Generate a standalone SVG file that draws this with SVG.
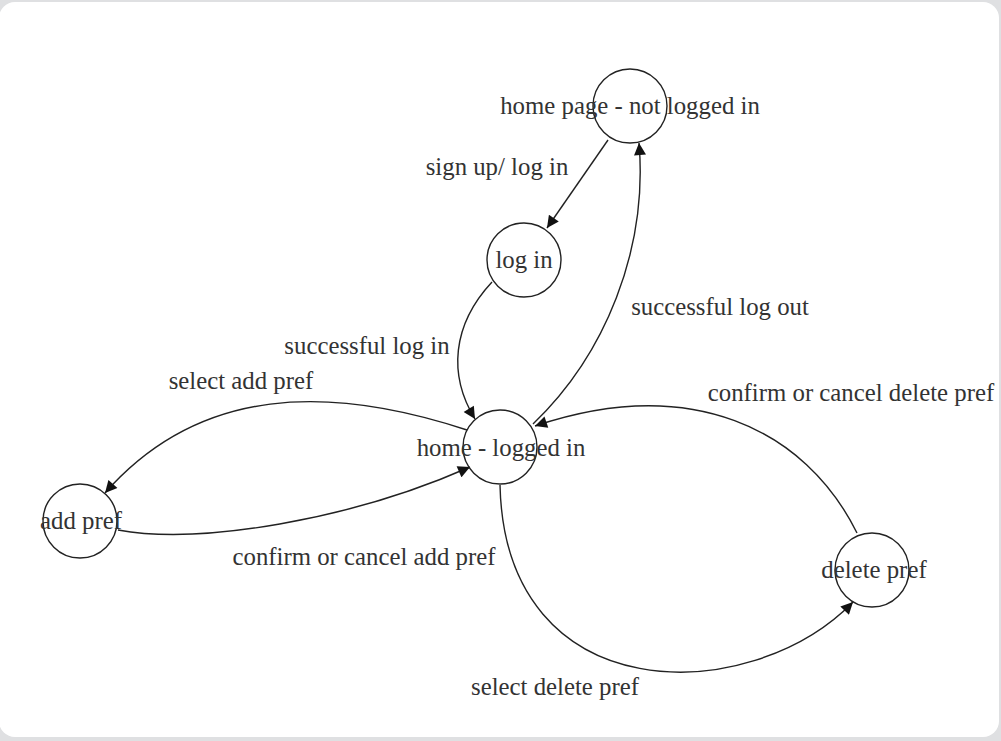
<svg xmlns="http://www.w3.org/2000/svg" width="1001" height="741" viewBox="0 0 1001 741">
<defs>
<style>
.node circle{fill:none;stroke:#222;stroke-width:1.4}
.lbl{font-family:"Liberation Serif","Times New Roman",serif;font-size:24.8px;fill:#333;text-anchor:middle}
.edge{fill:none;stroke:#222;stroke-width:1.4}
</style>
<marker id="arr" viewBox="0 0 10 10" refX="10" refY="5" markerWidth="13" markerHeight="12" markerUnits="userSpaceOnUse" orient="auto">
<path d="M0,0 L10,5 L0,10 z" fill="#111"/>
</marker>
</defs>
<rect x="0" y="0" width="1001" height="741" fill="#dfe0e2"/>
<rect x="-1" y="2" width="1000" height="735" rx="16" fill="#fff"/>
<g id="connectors">
<path class="edge" marker-end="url(#arr)" d="M608,140 L547,228"/>
<path class="edge" marker-end="url(#arr)" d="M492,282 C452,325 448,375 475,419"/>
<path class="edge" marker-end="url(#arr)" d="M533,424 C605,355 648,250 639,143"/>
<path class="edge" marker-end="url(#arr)" d="M467,430 C330,385 200,385 105,493"/>
<path class="edge" marker-end="url(#arr)" d="M118,530 C200,545 350,520 470,467"/>
<path class="edge" marker-end="url(#arr)" d="M500,485 C505,712 750,708 853,602"/>
<path class="edge" marker-end="url(#arr)" d="M857,533 C805,428 690,374 535,426"/>
</g>
<g id="edge-labels">
<text class="lbl" x="497" y="175">sign up/ log in</text>
<text class="lbl" x="367" y="354">successful log in</text>
<text class="lbl" x="720" y="315">successful log out</text>
<text class="lbl" x="241" y="389">select add pref</text>
<text class="lbl" x="364" y="565">confirm or cancel add pref</text>
<text class="lbl" x="555" y="695">select delete pref</text>
<text class="lbl" x="851" y="401">confirm or cancel delete pref</text>
</g>
<g id="node-home-not-logged" class="node">
<circle cx="630" cy="106" r="37"/>
<text class="lbl" x="630" y="114">home page - not logged in</text>
</g>
<g id="node-log-in" class="node">
<circle cx="524" cy="260" r="37"/>
<text class="lbl" x="524" y="268">log in</text>
</g>
<g id="node-home-logged" class="node">
<circle cx="500" cy="447" r="37"/>
<text class="lbl" x="501" y="456">home - logged in</text>
</g>
<g id="node-add-pref" class="node">
<circle cx="80" cy="521" r="37"/>
<text class="lbl" x="81" y="529">add pref</text>
</g>
<g id="node-delete-pref" class="node">
<circle cx="872" cy="570" r="37"/>
<text class="lbl" x="874" y="578">delete pref</text>
</g>
</svg>
